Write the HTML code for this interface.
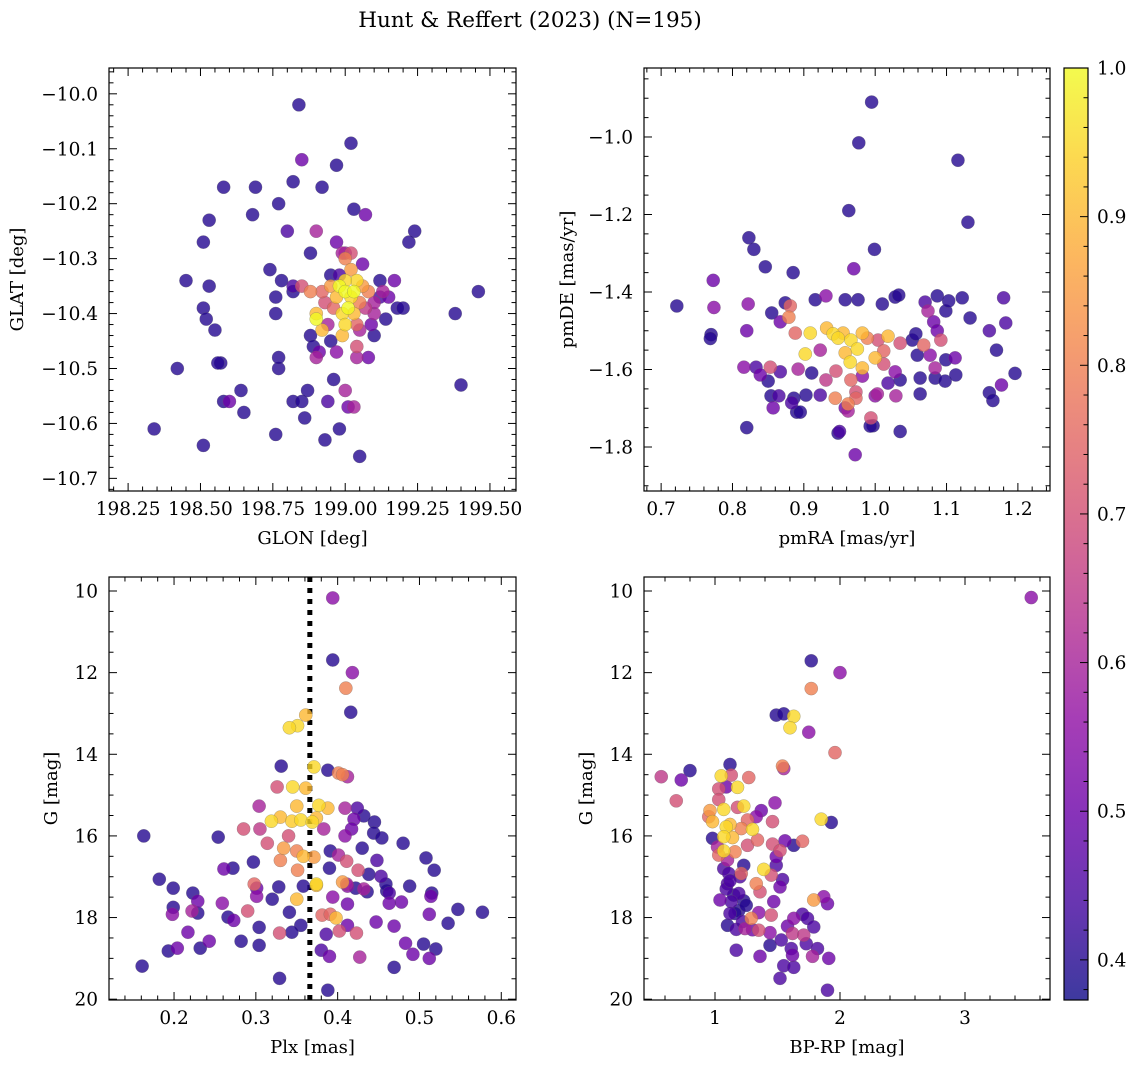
<!DOCTYPE html>
<html><head><meta charset="utf-8"><style>
body{margin:0;background:#fff}
svg{display:block;font-family:"DejaVu Serif","Liberation Serif",serif}
</style></head><body>
<svg id="fig" width="1136" height="1067" viewBox="0 0 1136 1067" xmlns="http://www.w3.org/2000/svg">
<text x="530" y="27" font-size="21.5" text-anchor="middle">Hunt &amp; Reffert (2023) (N=195)</text>
</svg>
<script>
// ---- data: [x, y, membership probability] ----
const p1Glon=[198.84,199.02,198.85,198.58,198.69,198.82,198.92,198.97,198.77,198.68,199.03,199.07,198.53,198.51,199.24,199.22,198.80,198.9,198.97,198.88,199.00,198.74,198.78,198.45,198.53,198.76,198.82,198.51,198.52,198.55,198.76,198.77,198.77,198.57,198.56,198.58,198.6,198.64,198.65,198.76,198.34,198.51,198.42,198.82,198.85,198.87,198.86,198.94,198.93,198.98,198.96,199.01,199.03,199.05,199.0,198.88,198.89,198.9,198.91,198.95,199.1,199.14,199.08,199.04,199.04,199.38,199.46,199.40,199.18,199.2,199.17,199.15,199.13,199.12,199.1,198.82,198.85,198.88,198.9,198.92,198.95,198.98,199.0,199.02,198.98,199.0,199.02,199.04,199.01,198.99,199.03,199.05,198.97,198.96,199.06,199.04,199.0,198.99,199.07,199.1,199.08,198.9,198.93,198.95,199.02,198.99,199.06,199.05,198.97,198.92,199.0,199.03,199.12,198.94,199.09];
const p1Glat=[-10.02,-10.09,-10.12,-10.17,-10.17,-10.16,-10.17,-10.13,-10.2,-10.22,-10.21,-10.22,-10.23,-10.27,-10.25,-10.27,-10.25,-10.25,-10.27,-10.29,-10.29,-10.32,-10.34,-10.34,-10.35,-10.37,-10.36,-10.39,-10.41,-10.43,-10.4,-10.5,-10.48,-10.49,-10.49,-10.56,-10.56,-10.54,-10.58,-10.62,-10.61,-10.64,-10.5,-10.56,-10.56,-10.54,-10.59,-10.56,-10.63,-10.61,-10.52,-10.57,-10.57,-10.66,-10.54,-10.44,-10.46,-10.48,-10.47,-10.45,-10.44,-10.41,-10.48,-10.48,-10.46,-10.4,-10.36,-10.53,-10.39,-10.39,-10.34,-10.37,-10.36,-10.34,-10.4,-10.35,-10.35,-10.36,-10.4,-10.43,-10.33,-10.33,-10.3,-10.32,-10.35,-10.36,-10.37,-10.34,-10.39,-10.4,-10.4,-10.38,-10.37,-10.39,-10.35,-10.42,-10.42,-10.44,-10.39,-10.38,-10.36,-10.41,-10.38,-10.35,-10.29,-10.29,-10.31,-10.43,-10.47,-10.36,-10.34,-10.36,-10.37,-10.42,-10.42];
const p1Prob=[.4,.4,.5,.4,.4,.4,.4,.4,.4,.4,.4,.5,.4,.4,.4,.4,.45,.6,.5,.4,.6,.4,.4,.4,.4,.4,.4,.4,.4,.4,.4,.4,.4,.4,.4,.4,.5,.4,.4,.4,.4,.4,.4,.4,.4,.4,.4,.45,.4,.4,.4,.5,.6,.4,.6,.4,.4,.6,.5,.4,.4,.4,.5,.6,.7,.4,.4,.4,.4,.4,.5,.5,.6,.4,.6,.45,.7,.8,.9,.9,.4,.45,.8,.85,1,1,.95,.95,1,.95,.9,.8,.9,.75,.85,.75,.95,.9,.65,.6,.8,1,.7,.85,.7,.6,.5,.6,.55,.75,.95,1,.45,.6,.5];

const p2PmRA=[0.995,0.977,1.116,0.963,0.999,1.13,0.823,0.83,0.846,0.885,0.722,0.773,0.774,0.77,0.769,0.82,0.82,0.97,1.087,1.18,1.183,1.17,1.16,1.16,1.165,1.177,1.196,1.035,0.997,0.972,0.95,0.89,
0.822,0.874,0.855,0.867,0.881,0.888,0.879,0.916,0.931,0.958,0.976,1.01,1.028,1.033,1.07,1.074,1.082,1.099,1.103,1.122,1.133,
0.909,0.932,0.941,0.948,0.955,0.966,0.975,0.982,0.989,1.004,1.012,1.018,1.035,1.052,1.057,1.087,1.092,1.068,1.077,
0.902,0.923,0.958,0.965,0.982,1.0,1.012,1.028,1.059,1.084,1.099,1.112,
0.816,0.833,0.853,0.839,0.85,0.867,0.892,0.911,0.931,0.945,0.966,0.973,0.982,1.003,1.018,1.035,1.063,1.084,1.098,1.113,
0.886,0.903,0.923,0.944,0.962,0.973,1.0,1.029,1.063,0.854,0.865,0.883,0.895,0.857,0.958,0.994,0.993,0.948,0.962];
const p2PmDE=[-0.91,-1.015,-1.06,-1.19,-1.29,-1.22,-1.26,-1.29,-1.335,-1.35,-1.436,-1.37,-1.44,-1.51,-1.52,-1.5,-1.75,-1.34,-1.41,-1.415,-1.48,-1.55,-1.5,-1.66,-1.68,-1.64,-1.61,-1.76,-1.745,-1.82,-1.76,-1.71,
-1.431,-1.428,-1.454,-1.477,-1.436,-1.506,-1.465,-1.42,-1.41,-1.42,-1.42,-1.431,-1.413,-1.408,-1.426,-1.449,-1.477,-1.449,-1.423,-1.415,-1.467,
-1.506,-1.493,-1.508,-1.519,-1.506,-1.524,-1.547,-1.506,-1.519,-1.524,-1.552,-1.514,-1.532,-1.524,-1.508,-1.5,-1.524,-1.537,-1.563,
-1.56,-1.55,-1.557,-1.581,-1.596,-1.57,-1.586,-1.606,-1.563,-1.596,-1.575,-1.57,
-1.594,-1.594,-1.594,-1.614,-1.63,-1.606,-1.599,-1.609,-1.627,-1.604,-1.627,-1.658,-1.617,-1.663,-1.635,-1.627,-1.622,-1.622,-1.63,-1.614,
-1.674,-1.666,-1.666,-1.674,-1.689,-1.674,-1.668,-1.668,-1.663,-1.668,-1.668,-1.686,-1.71,-1.699,-1.699,-1.725,-1.746,-1.764,-1.707];
const p2Prob=[.4,.4,.4,.4,.4,.4,.4,.4,.4,.4,.4,.5,.55,.4,.4,.5,.4,.5,.4,.45,.45,.4,.45,.4,.4,.5,.4,.4,.4,.5,.45,.4,
.55,.4,.4,.5,.75,.75,.8,.4,.55,.4,.4,.4,.4,.4,.45,.6,.5,.4,.4,.4,.4,
.95,.9,.95,.95,.9,.95,.95,.9,.8,.7,.75,.9,.7,.4,.4,.5,.7,.75,.55,
.95,.6,.9,.95,.9,.9,.7,.55,.4,.6,.4,.5,
.55,.45,.7,.5,.4,.45,.6,.4,.65,.7,.75,.7,.55,.6,.45,.4,.4,.4,.4,.4,
.4,.4,.45,.8,.8,.75,.55,.6,.4,.4,.45,.45,.4,.5,.5,.7,.4,.4,.6];

const p3Plx=[.394,.394,.418,.41,.416,.361,.351,.341,.331,.371,.388,.401,.406,.412,.361,.345,.326,.304,.35,.377,.388,.409,.424,.319,.33,.344,.355,.369,.374,.42,.432,.445,.305,.383,.34,.285,.417,.409,.254,.163,.444,.454,.48,.43,.314,.334,.35,.358,.371,.391,.401,.411,.448,.272,.261,.297,.33,.351,.39,.425,.438,.453,.508,.518,.182,.199,.223,.301,.358,.374,.411,.422,.432,.46,.515,.488,
.229,.199,.198,.222,.229,.259,.266,.273,.29,.301,.298,.32,.328,.35,.341,.355,.304,.329,.344,.217,.243,.282,.304,.204,.193,.232,.161,.329,.388,.38,.39,.386,.381,.391,.398,.402,.412,.423,.427,.412,.394,.374,.406,.447,.469,.483,.492,.469,.505,.52,.512,.512,.514,.535,.547,.577,.478,.463,.463,.459,.436,.412];
const p3G=[10.17,11.69,12.0,12.38,12.97,13.04,13.3,13.35,14.29,14.31,14.39,14.46,14.5,14.55,14.83,14.8,14.8,15.27,15.27,15.25,15.32,15.32,15.32,15.64,15.54,15.64,15.61,15.66,15.56,15.59,15.51,15.66,15.83,15.83,16.0,15.83,15.83,16.0,16.03,16.0,15.93,16.05,16.18,16.3,16.18,16.3,16.37,16.5,16.52,16.37,16.47,16.62,16.6,16.79,16.81,16.64,16.6,16.84,16.79,16.84,16.94,16.99,16.54,16.84,17.06,17.28,17.4,17.28,17.23,17.18,17.18,17.28,17.3,17.35,17.4,17.23,
17.6,17.75,17.92,17.84,17.89,17.65,17.99,18.07,17.84,17.48,17.18,17.55,17.25,17.55,17.87,18.19,18.24,18.38,18.36,18.36,18.58,18.58,18.68,18.75,18.82,18.75,19.19,19.49,19.78,18.8,18.95,18.41,17.94,17.92,18.01,18.33,18.19,18.38,18.97,17.67,17.5,17.21,17.13,18.11,18.21,18.63,18.9,19.22,18.65,18.77,19.0,17.92,17.48,18.14,17.8,17.87,17.62,17.65,17.4,17.18,17.37,17.23];
const p3Prob=[.55,.4,.55,.8,.4,.9,.95,.95,.4,.95,.4,.8,.8,.6,.9,.95,.7,.6,.9,.95,.9,.6,.45,.95,.9,.93,.95,.95,.9,.5,.4,.4,.65,.6,.7,.7,.5,.55,.4,.4,.4,.4,.4,.4,.7,.85,.8,.9,.85,.4,.6,.7,.45,.4,.5,.4,.8,.8,.4,.7,.4,.45,.4,.4,.4,.4,.4,.5,.4,.95,.6,.4,.6,.4,.4,.4,
.5,.4,.55,.6,.4,.55,.4,.5,.7,.55,.75,.4,.4,.9,.4,.4,.4,.7,.4,.5,.5,.4,.4,.5,.4,.4,.4,.4,.4,.45,.5,.45,.75,.75,.9,.7,.5,.7,.6,.5,.55,.9,.85,.5,.5,.5,.5,.4,.4,.4,.5,.5,.5,.4,.4,.4,.5,.5,.45,.4,.4,.55];

const p4BpRp=[3.53,1.77,2.0,1.77,1.49,1.55,1.63,1.60,1.75,1.96,1.54,1.55,1.12,0.57,0.73,0.80,0.69,1.05,1.13,1.27,1.09,1.18,1.03,1.03,0.96,1.07,1.23,1.18,1.37,1.48,1.46,1.33,1.26,0.98,0.95,1.09,1.12,1.30,1.21,1.85,1.93,0.98,1.07,1.14,1.26,1.34,1.46,1.56,1.63,1.70,1.02,1.07,1.03,1.16,1.52,1.49,1.10,1.07,1.23,1.49,1.39,1.45,1.21,1.11,1.10,1.19,1.33,1.36,1.54,1.52,1.04,1.13,1.23,1.47,1.79,1.87,1.90,1.12,1.19,1.29,1.35,1.45,1.58,1.63,1.70,1.74,1.79,1.10,1.17,1.24,1.35,1.44,1.53,1.62,1.71,1.17,1.36,1.44,1.61,1.62,1.73,1.82,1.78,1.91,1.55,1.63,1.52,1.90,1.09,1.15,1.2,1.25,1.16,1.22,1.3,1.12];
const p4G=[10.16,11.71,12.0,12.39,13.04,13.01,13.07,13.35,13.46,13.96,14.29,14.35,14.25,14.55,14.63,14.40,15.14,14.53,14.51,14.57,14.80,14.81,14.85,15.11,15.38,15.35,15.27,15.30,15.38,15.19,15.65,15.53,15.61,15.65,15.53,15.78,15.72,15.84,15.82,15.59,15.67,16.06,16.02,16.04,16.23,16.10,16.20,16.12,16.23,16.13,16.27,16.37,16.47,16.39,16.36,16.51,16.59,16.80,16.72,16.72,16.82,16.96,16.92,16.92,17.17,17.41,17.17,17.37,17.07,17.25,17.57,17.61,17.59,17.61,17.57,17.49,17.66,17.90,17.83,18.02,17.88,17.94,18.21,18.02,17.92,18.02,18.23,18.19,18.29,18.27,18.31,18.37,18.55,18.39,18.43,18.80,18.95,18.68,18.76,18.92,18.64,18.76,18.95,19.00,19.18,19.22,19.49,19.78,17.3,17.45,17.0,17.7,17.9,18.1,18.3,17.1];
const p4Prob=[.55,.4,.55,.8,.4,.4,.95,.95,.55,.75,.8,.6,.4,.65,.5,.4,.7,.95,.7,.75,.5,.95,.7,.7,.85,.95,.95,.7,.5,.55,.7,.55,.75,.9,.75,.95,.9,.95,.8,.95,.4,.4,.95,.9,.7,.75,.7,.5,.4,.75,.6,.95,.75,.8,.7,.5,.6,.45,.4,.45,.95,.7,.75,.45,.45,.45,.8,.7,.45,.5,.5,.45,.4,.5,.85,.55,.5,.45,.4,.8,.55,.7,.5,.55,.45,.45,.45,.4,.45,.6,.7,.55,.45,.65,.65,.45,.5,.4,.45,.5,.45,.45,.6,.5,.45,.45,.45,.45,.45,.4,.45,.4,.4,.45,.5,.45];

const cbarTicks=[0.4,0.5,0.6,0.7,0.8,0.9,1.0];
const plxLine=[0.366];

// ---- helpers ----
const NS='http://www.w3.org/2000/svg';
const svg=document.getElementById('fig');
function mk(tag,attrs,parent){const e=document.createElementNS(NS,tag);for(const k in attrs)e.setAttribute(k,attrs[k]);(parent||svg).appendChild(e);return e;}
const VMIN=0.373,VMAX=1.0;
const stops=[[13,8,135],[65,4,157],[106,0,168],[143,13,164],[177,42,144],[204,71,120],[225,100,98],[242,132,75],[252,166,54],[252,206,37],[240,249,33]];
function plasma(t){t=Math.max(0,Math.min(1,t));const f=t*10,i=Math.min(9,Math.floor(f)),u=f-i;const a=stops[i],b=stops[i+1];return 'rgb('+a.map((v,k)=>Math.round(v+(b[k]-v)*u)).join(',')+')';}
function colorOf(p){return plasma((p-VMIN)/(VMAX-VMIN));}
function fmt(v,d){let s=v.toFixed(d);return s.replace('-','\u2212');}
const TF=18.5, LF=18;

function panel(o){
  const g=mk('g',{});
  
  
  const sx=v=>o.L+(v-o.x0)/(o.x1-o.x0)*(o.R-o.L);
  const sy=v=>o.T+(v-o.y0)/(o.y1-o.y0)*(o.B-o.T);
  if(o.vline){for(const v of o.vline){const l=mk('line',{x1:sx(v),x2:sx(v),y1:o.T,y2:o.B,stroke:'#000','stroke-width':5,'stroke-dasharray':'5 6'},g);
    
    }}
  const idx=o.xs.map((_,i)=>i).sort((a,b)=>o.ps[a]-o.ps[b]);
  for(const i of idx){const c=mk('circle',{cx:sx(o.xs[i]),cy:sy(o.ys[i]),r:6.6,fill:colorOf(o.ps[i]),'fill-opacity':0.8,stroke:'#666','stroke-opacity':0.5,'stroke-width':0.5},g);
    
    }
  const fr=mk('rect',{x:o.L,y:o.T,width:o.R-o.L,height:o.B-o.T,fill:'none',stroke:'#000','stroke-width':1.2},g);
  
  
  const eps=1e-9;
  const xlo=Math.min(o.x0,o.x1),xhi=Math.max(o.x0,o.x1),ylo=Math.min(o.y0,o.y1),yhi=Math.max(o.y0,o.y1);
  for(let v=Math.ceil(xlo/o.xmin-eps)*o.xmin;v<=xhi+eps;v+=o.xmin){const X=sx(v);const maj=Math.abs(v/o.xmaj-Math.round(v/o.xmaj))<1e-6;const len=maj?8:4.5;
    mk('line',{x1:X,x2:X,y1:o.B,y2:o.B-len,stroke:'#000','stroke-width':1},g);mk('line',{x1:X,x2:X,y1:o.T,y2:o.T+len,stroke:'#000','stroke-width':1},g);
    if(maj){const t=mk('text',{x:X,y:o.B+24,'font-size':TF,'text-anchor':'middle'},g);t.textContent=fmt(v,o.xd);
      
      }}
  for(let v=Math.ceil(ylo/o.ymin-eps)*o.ymin;v<=yhi+eps;v+=o.ymin){const Y=sy(v);const maj=Math.abs(v/o.ymaj-Math.round(v/o.ymaj))<1e-6;const len=maj?8:4.5;
    mk('line',{x1:o.L,x2:o.L+len,y1:Y,y2:Y,stroke:'#000','stroke-width':1},g);mk('line',{x1:o.R,x2:o.R-len,y1:Y,y2:Y,stroke:'#000','stroke-width':1},g);
    if(maj){const t=mk('text',{x:o.L-11,y:Y+6.5,'font-size':TF,'text-anchor':'end'},g);t.textContent=fmt(v,o.yd);
      
      }}
  const xl=mk('text',{x:(o.L+o.R)/2,y:o.B+53,'font-size':LF,'text-anchor':'middle'},g);xl.textContent=o.xlabel;
  
  
  const yx=o.ylx,yy=(o.T+o.B)/2;
  const yl=mk('text',{x:yx,y:yy,'font-size':LF,'text-anchor':'middle',transform:'rotate(-90 '+yx+' '+yy+')'},g);yl.textContent=o.ylabel;
  
  
}

panel({name:'glon-glat-panel',L:109,R:516,T:68,B:491,x0:198.184,x1:199.59,y0:-9.953,y1:-10.723,xmaj:0.25,xmin:0.05,ymaj:0.1,ymin:0.02,xd:2,yd:1,xs:p1Glon,ys:p1Glat,ps:p1Prob,xlabel:'GLON [deg]',ylabel:'GLAT [deg]',ylx:23});
panel({name:'proper-motion-panel',L:644,R:1050,T:68,B:491,x0:0.676,x1:1.245,y0:-0.822,y1:-1.9135,xmaj:0.1,xmin:0.02,ymaj:0.2,ymin:0.05,xd:1,yd:1,xs:p2PmRA,ys:p2PmDE,ps:p2Prob,xlabel:'pmRA [mas/yr]',ylabel:'pmDE [mas/yr]',ylx:573});
panel({name:'parallax-magnitude-panel',L:109,R:516,T:577,B:1000,x0:0.1205,x1:0.618,y0:9.657,y1:20.02,xmaj:0.1,xmin:0.02,ymaj:2,ymin:0.5,xd:1,yd:0,xs:p3Plx,ys:p3G,ps:p3Prob,xlabel:'Plx [mas]',ylabel:'G [mag]',ylx:57,vline:plxLine});
panel({name:'color-magnitude-panel',L:644,R:1050,T:577,B:1000,x0:0.432,x1:3.68,y0:9.657,y1:20.02,xmaj:1,xmin:0.2,ymaj:2,ymin:0.5,xd:0,yd:0,xs:p4BpRp,ys:p4G,ps:p4Prob,xlabel:'BP-RP [mag]',ylabel:'G [mag]',ylx:592});

(function(){
  const L=1064,R=1088,T=68,B=1000;
  const g=mk('g',{});
  
  
  const defs=mk('defs',{},g);
  const lg=mk('linearGradient',{id:'cb',x1:0,y1:1,x2:0,y2:0},defs);
  for(let i=0;i<=20;i++){mk('stop',{offset:i/20,'stop-color':plasma(i/20)},lg);}
  mk('rect',{x:L,y:T,width:R-L,height:B-T,fill:'url(#cb)','fill-opacity':0.8},g);
  mk('rect',{x:L,y:T,width:R-L,height:B-T,fill:'none',stroke:'#000','stroke-width':1.2},g);
  const sy=v=>B-(v-VMIN)/(VMAX-VMIN)*(B-T);
  for(let k=19;k<=50;k++){const v=k*0.02;if(v<VMIN-1e-9)continue;const Y=sy(v);const maj=(k%5===0);
    mk('line',{x1:R,x2:R-(maj?8:4.5),y1:Y,y2:Y,stroke:'#000','stroke-width':1},g);}
  for(const v of cbarTicks){const t=mk('text',{x:R+9,y:sy(v)+6.5,'font-size':TF},g);t.textContent=v.toFixed(1);
    
    }
})();
</script>
</body></html>
